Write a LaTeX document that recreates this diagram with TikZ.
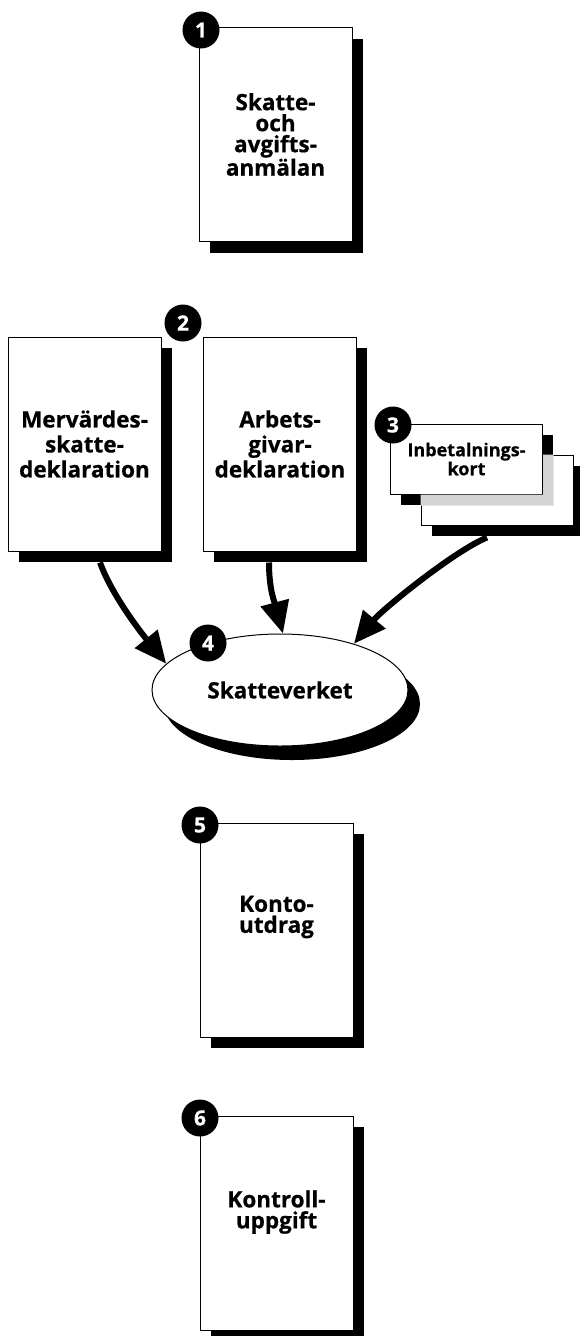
\documentclass[tikz,border=0pt]{standalone}
\usepackage{fontspec}
\setmainfont{Open Sans}[BoldFeatures={FakeBold=0.6}]
\usetikzlibrary{shapes, calc, arrows.meta, shadows}

\begin{document}
\begin{tikzpicture}[x=1pt, y=-1pt, >={Triangle[length=32pt, width=28pt]},
  skugga/.style={drop shadow={shadow xshift=10.5pt, shadow yshift=-11pt, fill=black, opacity=1}},
  blankett/.style={draw, fill=white, line width=1pt, minimum width=153pt, minimum height=214pt, inner sep=0pt, skugga},
  kort/.style={draw, fill=white, line width=1pt, minimum width=152pt, minimum height=70pt, inner sep=0pt},
  stor/.style={align=center, font=\bfseries\fontsize{22.5}{25}\selectfont},
  liten/.style={align=center, font=\bfseries\fontsize{22.5}{21}\selectfont},
  nummer/.style={circle, fill=black, text=white, inner sep=0pt, minimum size=37pt, font=\bfseries\fontsize{21}{21}\selectfont},
  pil/.style={->, line width=6pt}]

\useasboundingbox (0,0) rectangle (580,1336);

% 1
\node[blankett, liten] (anm) at (275.5,134.5) {Skatte-\\och\\avgifts-\\anmälan};
\node[nummer] (n1) at (201,30) {1};

% 2
\node[blankett, stor] (moms) at (84.5,444) {Mervärdes-\\skatte-\\deklaration};
\node[blankett, stor] (ag) at (280,444) {Arbets-\\givar-\\deklaration};
\node[nummer] (n2) at (183,323) {2};

% 3
\node[kort, skugga] (kort2) at (497,490) {};
\node[kort, skugga, font=\bfseries\fontsize{18}{17}\selectfont, align=center] (kort1) at (466.5,459) {Inbetalnings-\\kort};
\coordinate (g1) at (kort1.east |- kort2.north);
\coordinate (g2) at (kort1.south -| kort2.west);
\fill[black!17] (g1) -- ([xshift=10.5pt]g1) -- ([xshift=10.5pt, yshift=-11pt]kort1.south east)
  -- ([yshift=-11pt]g2) -- (g2) -- (kort1.south east) -- cycle;
\node[nummer] (n3) at (393,425) {3};

% 4
\node[ellipse, draw, fill=white, line width=1pt, minimum width=256pt, minimum height=112pt,
  drop shadow={shadow xshift=12pt, shadow yshift=-14pt, fill=black, opacity=1}, stor] (sv) at (280,690) {Skatteverket};
\node[nummer] (n4) at (208,643) {4};

\draw[pil] ([xshift=15.5pt, yshift=-11pt]moms.south) .. controls +(12,33) and +(-25,-31) .. (sv.167);
\draw[pil] ([xshift=-11pt, yshift=-11pt]ag.south) .. controls +(0,28) and +(-8,-30) .. (sv.87);
\draw[pil] ([xshift=-10pt, yshift=-12pt]kort2.south) .. controls +(-32,13) and +(29,-35) .. (sv.32);

% 5
\node[blankett] (konto) at (276.5,930) {};
\node[liten] (kontotxt) at ([yshift=13pt]konto.center) {Konto-\\utdrag};
\node[nummer] (n5) at (200,825) {5};

% 6
\node[blankett] (kontroll) at (276.5,1223) {};
\node[liten] (kontrolltxt) at ([yshift=11pt]kontroll.center) {Kontroll-\\uppgift};
\node[nummer] (n6) at (200,1118) {6};

\end{tikzpicture}
\end{document}
